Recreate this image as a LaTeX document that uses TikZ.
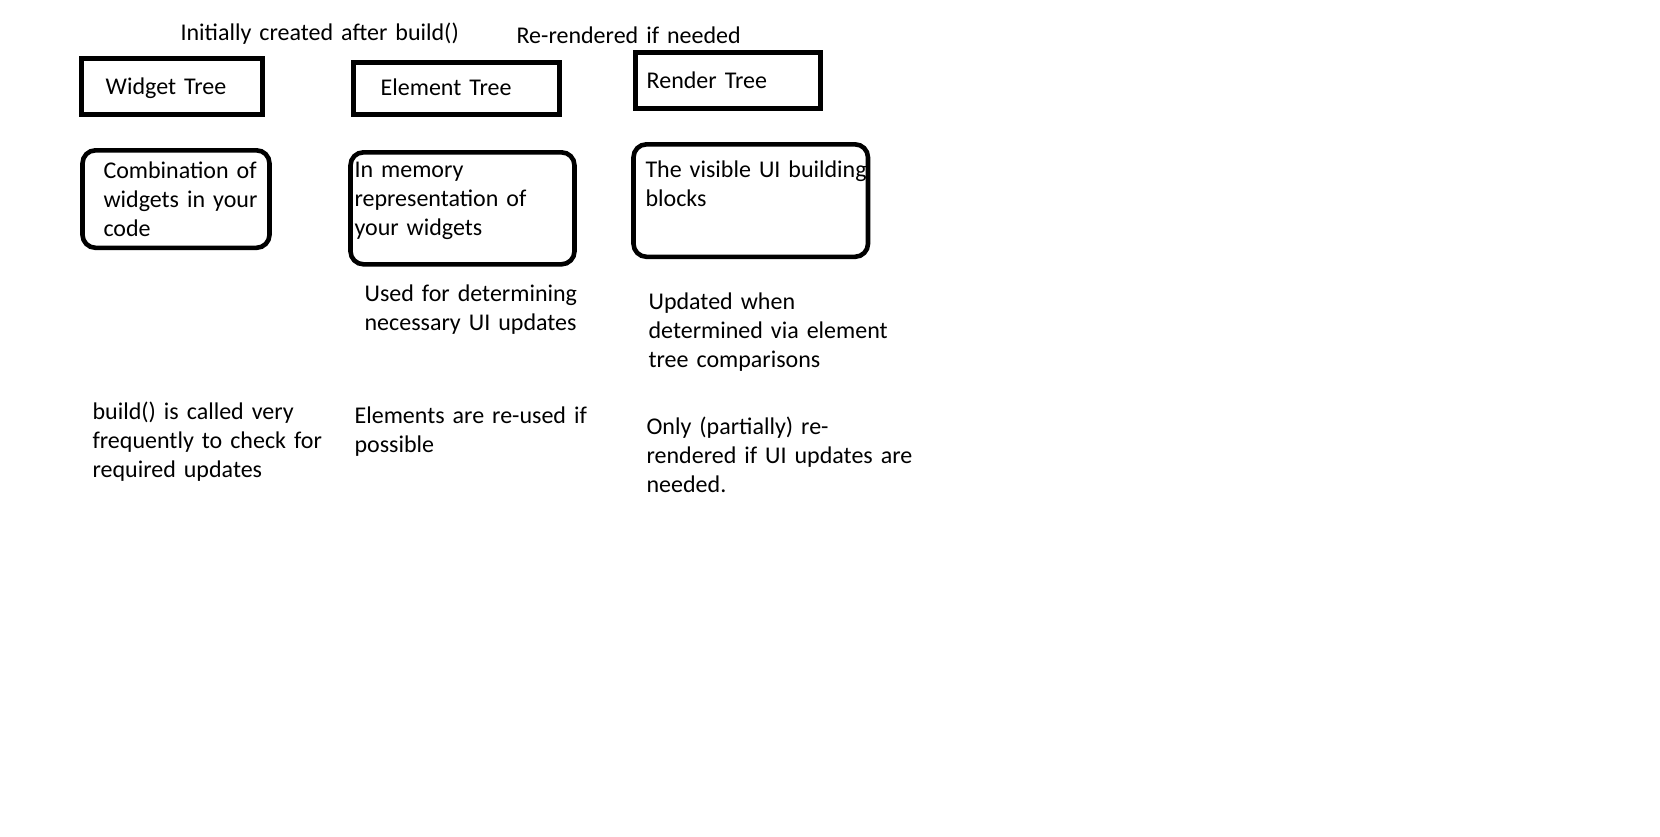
\documentclass[tikz,border=0pt]{standalone}
\usepackage{fontspec}
\setmainfont[WordSpace=0.72]{Carlito}
\usepackage{tikz}
\usetikzlibrary{positioning}

\tikzset{
  treebox/.style = {draw=black, line width=2.5pt, anchor=north west, align=left,
    inner ysep=0pt, font=\fontsize{12pt}{14.5pt}\selectfont},
  infobox/.style = {treebox, line width=2.3pt, rounded corners=6.5pt},
  note/.style = {anchor=base west, align=left, inner sep=0pt, text width=160pt,
    font=\fontsize{12pt}{14.5pt}\selectfont}
}

\begin{document}
\begin{tikzpicture}[x=0.5pt, y=-0.5pt]
		\useasboundingbox (1.8,0) rectangle (1661.8,836);

		% headings over the trees
		\node[note] (created)  at (182,40) {Initially created after build()};
		\node[note] (rerender) at (518,43) {Re-rendered if needed};

		% the three trees
		\node[treebox, inner xsep=12.25pt, text width=66.25pt,
			text height=18.25pt, text depth=9.75pt] (widgettree) at (80.5,55.5) {Widget Tree};
		\node[treebox, inner xsep=13.5pt, text width=76pt,
			text height=16.7pt, text depth=9.5pt] (elementtree) at (353,59.6) {Element Tree};
		\node[treebox, inner xsep=5.5pt, text width=81.25pt,
			text height=17.85pt, text depth=10.35pt] (rendertree) at (635,50) {Render Tree};

		% what each tree is
		\node[infobox, inner xsep=10.5pt, text width=72.5pt,
			text height=14pt, text depth=34.75pt] (widgetinfo) at (82,148)
			{\mbox{Combination of}\\\mbox{widgets in your}\\code};
		\node[infobox, inner xsep=2pt, text width=108pt,
			text height=12.5pt, text depth=43.5pt] (elementinfo) at (350,150)
			{In memory\\representation of\\your widgets};
		\node[infobox, inner xsep=6pt, text width=105.25pt,
			text height=16.5pt, text depth=39.75pt] (renderinfo) at (633,142)
			{\mbox{The visible UI building}\\blocks};

		% notes below
		\node[note] (elementuse)  at (366,301) {Used for determining\\necessary UI updates};
		\node[note] (renderuse)   at (650,309) {Updated when\\determined via element\\tree comparisons};
		\node[note] (widgetbuild) at (94,419)  {build() is called very\\frequently to check for\\required updates};
		\node[note] (elementreuse) at (356,423) {Elements are re-used if\\possible};
		\node[note] (renderonly)  at (648,434) {Only (partially) re-\\rendered if UI updates are\\needed.};
\end{tikzpicture}
\end{document}
